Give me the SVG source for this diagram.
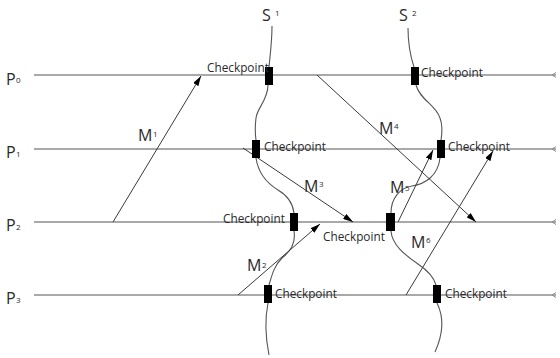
<svg xmlns="http://www.w3.org/2000/svg" width="560" height="358" viewBox="0 0 560 358">
<style>
.proc{stroke:#8c8c8c;stroke-width:1.6;fill:none}
.cp{fill:#000}
.cpt{font-family:"Open Sans","Liberation Sans",sans-serif;font-size:11.8px;fill:#2a2a2a}
.lbl{font-family:"Open Sans","Liberation Sans",sans-serif;font-size:16px;fill:#2a2a2a}
.sub{font-family:"Open Sans","Liberation Sans",sans-serif;font-size:8px;fill:#2a2a2a}
.msg{stroke:#3a3a3a;stroke-width:1;fill:none;marker-end:url(#ah)}
.rl{stroke:#555;stroke-width:1.1;fill:none}
</style>
<defs>
<marker id="ah" viewBox="0 0 10 6" refX="10" refY="3" markerWidth="10" markerHeight="6" markerUnits="userSpaceOnUse" orient="auto">
<path d="M0,0 L10,3 L0,6 Z" fill="#000"/>
</marker>
<marker id="pe" viewBox="0 0 6 6" refX="5" refY="3" markerWidth="6" markerHeight="6" markerUnits="userSpaceOnUse" orient="auto">
<path d="M5,0.5 L1,3 L5,5.5" fill="none" stroke="#8c8c8c" stroke-width="1"/>
</marker>
</defs>

<g id="P0">
<line class="proc" x1="34" y1="75" x2="556" y2="75" marker-end="url(#pe)"/>
<text class="lbl" x="6" y="85">P</text><text class="sub" x="16" y="83">0</text>
</g>
<g id="P1">
<line class="proc" x1="34" y1="149" x2="556" y2="149" marker-end="url(#pe)"/>
<text class="lbl" x="6" y="158">P</text><text class="sub" x="16" y="157">1</text>
</g>
<g id="P2">
<line class="proc" x1="34" y1="222" x2="556" y2="222" marker-end="url(#pe)"/>
<text class="lbl" x="6" y="231">P</text><text class="sub" x="16" y="230">2</text>
</g>
<g id="P3">
<line class="proc" x1="34" y1="295" x2="556" y2="295" marker-end="url(#pe)"/>
<text class="lbl" x="6" y="304">P</text><text class="sub" x="16" y="303">3</text>
</g>

<g id="connectors">
<g id="S1">
<text class="lbl" x="262" y="21">S</text><text class="sub" x="275" y="16">1</text>
<path class="rl" d="M272,26 C272,42 270,56 269,67"/>
<path class="rl" d="M268,85 C268,100 257,108 256,118 C255,126 255,133 256,140"/>
<path class="rl" d="M256,158 C258,172 265,182 278,190 C290,197 293,205 294,213"/>
<path class="rl" d="M294,231 C296,243 290,252 282,258 C274,266 272,275 269,285"/>
<path class="rl" d="M268,303 C265,318 265,335 269,355"/>
</g>
<g id="S2">
<text class="lbl" x="399" y="21">S</text><text class="sub" x="412" y="16">2</text>
<path class="rl" d="M408,28 C408,45 411,58 414,67"/>
<path class="rl" d="M416,85 C420,100 436,105 440,118 C443,126 442,134 441,140"/>
<path class="rl" d="M440,158 C438,176 425,184 412,186 C400,188 391,198 391,213"/>
<path class="rl" d="M391,231 C392,245 405,255 418,264 C430,272 434,278 436,285"/>
<path class="rl" d="M437,303 C443,315 445,330 435,352"/>
</g>
<g id="M1">
<line class="msg" x1="113" y1="222" x2="201" y2="76"/>
<text class="lbl" x="138" y="141">M</text><text class="sub" x="153" y="137">1</text>
</g>
<g id="M2">
<line class="msg" x1="238" y1="295" x2="320" y2="224"/>
<text class="lbl" x="247" y="271">M</text><text class="sub" x="262" y="268">2</text>
</g>
<g id="M3">
<line class="msg" x1="243" y1="148" x2="353" y2="222"/>
<text class="lbl" x="304" y="192">M</text><text class="sub" x="319" y="187">3</text>
</g>
<g id="M4">
<line class="msg" x1="317" y1="75" x2="476" y2="222"/>
<text class="lbl" x="379" y="134">M</text><text class="sub" x="394" y="129">4</text>
</g>
<g id="M5">
<line class="msg" x1="398" y1="222" x2="433" y2="150"/>
<text class="lbl" x="390" y="193">M</text><text class="sub" x="405" y="191">5</text>
</g>
<g id="M6">
<line class="msg" x1="406" y1="295" x2="493" y2="151"/>
<text class="lbl" x="411" y="248">M</text><text class="sub" x="426" y="243">6</text>
</g>
</g>

<g id="cp-P0-S1"><rect class="cp" x="265" y="67" width="8" height="18"/><text class="cpt" x="207" y="72">Checkpoint</text></g>
<g id="cp-P0-S2"><rect class="cp" x="411" y="67" width="8" height="18"/><text class="cpt" x="421" y="77">Checkpoint</text></g>
<g id="cp-P1-S1"><rect class="cp" x="252" y="140" width="8" height="18"/><text class="cpt" x="264" y="151">Checkpoint</text></g>
<g id="cp-P1-S2"><rect class="cp" x="437" y="140" width="8" height="18"/><text class="cpt" x="448" y="151">Checkpoint</text></g>
<g id="cp-P2-S1"><rect class="cp" x="290" y="213" width="8" height="18"/><text class="cpt" x="223" y="223">Checkpoint</text></g>
<g id="cp-P2-S2"><rect class="cp" x="386" y="213" width="9" height="18"/><text class="cpt" x="323" y="241">Checkpoint</text></g>
<g id="cp-P3-S1"><rect class="cp" x="264" y="285" width="8" height="18"/><text class="cpt" x="275" y="298">Checkpoint</text></g>
<g id="cp-P3-S2"><rect class="cp" x="433" y="285" width="8" height="18"/><text class="cpt" x="445" y="298">Checkpoint</text></g>
</svg>
